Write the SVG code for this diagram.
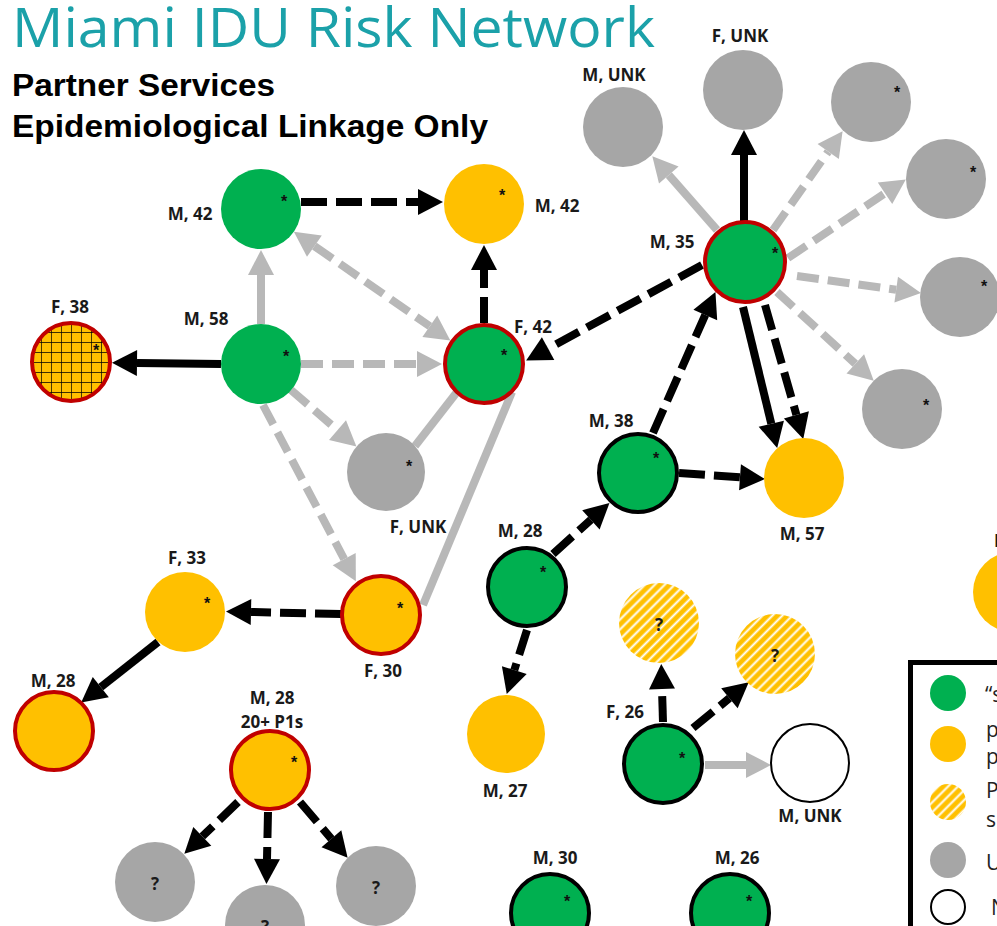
<svg xmlns="http://www.w3.org/2000/svg" width="997" height="926" viewBox="0 0 997 926">
<style>
.g{fill:#00B050}
.o{fill:#FFC000}
.gr{fill:#A6A6A6}
.rs{stroke:#C00000;stroke-width:4}
.bs{stroke:#000;stroke-width:4}
.lbl{font-family:"Open Sans","Liberation Sans",sans-serif;font-weight:700;font-size:17px;fill:#1a1a1a;text-anchor:middle}
.ast{font-family:"Liberation Sans",sans-serif;font-weight:700;font-size:16px;fill:#111;text-anchor:middle}
.q{font-family:"Open Sans","Liberation Sans",sans-serif;font-weight:700;font-size:17px;fill:#1a1a1a;text-anchor:middle}
.eb{stroke:#000;stroke-width:8;fill:none;marker-end:url(#ab)}
.eg{stroke:#B8B8B8;stroke-width:8;fill:none;marker-end:url(#ag)}
.ln{stroke:#B8B8B8;stroke-width:8;fill:none}
.db{stroke-dasharray:26 9}
.dg{stroke-dasharray:22 9}
.leg{font-family:"Open Sans","Liberation Sans",sans-serif;font-size:21px;fill:#222}
</style>
<defs>
<marker id="ab" markerUnits="userSpaceOnUse" markerWidth="30" markerHeight="30" refX="0" refY="13" orient="auto-start-reverse" overflow="visible"><path d="M0,0 L25,13 L0,26 Z" fill="#000"/></marker>
<marker id="ag" markerUnits="userSpaceOnUse" markerWidth="30" markerHeight="30" refX="0" refY="13" orient="auto-start-reverse" overflow="visible"><path d="M0,0 L25,13 L0,26 Z" fill="#B8B8B8"/></marker>
<pattern id="grid" patternUnits="userSpaceOnUse" width="10" height="10" x="31" y="322"><rect width="10" height="10" fill="#FFC000"/><path d="M0,0 V10 M0,0 H10" stroke="#000" stroke-width="1.4"/></pattern>
<pattern id="hatch" patternUnits="userSpaceOnUse" width="7" height="7" patternTransform="rotate(45)"><rect width="7" height="7" fill="#FFC000"/><line x1="1.5" y1="0" x2="1.5" y2="7" stroke="#fff" stroke-width="2"/></pattern>
</defs>
<rect width="997" height="926" fill="#fff"/>

<g id="title">
<text x="12" y="47" font-family="Open Sans, Liberation Sans, sans-serif" font-size="55" fill="#1BA1A9" textLength="643" lengthAdjust="spacingAndGlyphs">Miami IDU Risk Network</text>
<text x="12" y="96" font-family="Liberation Sans, Arial, sans-serif" font-weight="700" font-size="31" fill="#000" textLength="263" lengthAdjust="spacingAndGlyphs">Partner Services</text>
<text x="12" y="137" font-family="Liberation Sans, Arial, sans-serif" font-weight="700" font-size="31" fill="#000" textLength="476" lengthAdjust="spacingAndGlyphs">Epidemiological Linkage Only</text>
</g>

<g id="connectors">
<line class="eb db" x1="301" y1="202" x2="418" y2="202"/>
<line class="eb db" x1="484" y1="323" x2="484" y2="270"/>
<line class="eg" x1="261" y1="324" x2="261" y2="275"/>
<line class="eb" x1="221" y1="364" x2="137" y2="363"/>
<line class="eg dg" x1="301" y1="364" x2="417" y2="364"/>
<line class="eg dg" x1="314.4" y1="246.1" x2="429.8" y2="326.3" marker-start="url(#ag)"/>
<line class="eg dg" x1="291" y1="390" x2="337.5" y2="430.1"/>
<line class="eg dg" x1="263" y1="405" x2="344.2" y2="559.1"/>
<line class="ln" x1="415" y1="446" x2="457" y2="392"/>
<line class="ln" x1="512" y1="392" x2="423" y2="605"/>
<line class="eb db" x1="341" y1="614" x2="251" y2="612"/>
<line class="eb" x1="158" y1="642" x2="100.8" y2="687.1"/>
<line class="eb db" x1="702" y1="265" x2="548.1" y2="348.6"/>
<line class="eb db" x1="653" y1="433" x2="705.3" y2="314.9"/>
<line class="eg" x1="717" y1="230" x2="668.8" y2="175"/>
<line class="eb" x1="744" y1="221" x2="744" y2="155"/>
<line class="eg dg" x1="773" y1="230" x2="828.2" y2="151.6"/>
<line class="eg dg" x1="788" y1="258" x2="885" y2="193.3"/>
<line class="eg dg" x1="797" y1="276" x2="896.2" y2="289.7"/>
<line class="eg dg" x1="777" y1="292" x2="855.3" y2="363.8"/>
<line class="eb" x1="743" y1="307" x2="771.3" y2="423.7"/>
<line class="eb db" x1="765" y1="305" x2="796.4" y2="414.9"/>
<line class="eb db" x1="679" y1="473" x2="740" y2="477.3"/>
<line class="eb db" x1="553" y1="554" x2="590.9" y2="519.8"/>
<line class="eb db" x1="527" y1="630" x2="514.3" y2="670.1"/>
<line class="eb db" x1="238" y1="802" x2="202.3" y2="836.4"/>
<line class="eb db" x1="268" y1="812" x2="267" y2="859"/>
<line class="eb db" x1="300" y1="802" x2="331.4" y2="838.8"/>
<line class="eb db" x1="663" y1="722" x2="662" y2="689"/>
<line class="eb db" x1="693" y1="728" x2="729.4" y2="698.2"/>
<line class="eg" x1="705" y1="765" x2="746" y2="765"/>
</g>

<g id="n-m42g"><circle class="g" cx="261" cy="209" r="40"/><text class="ast" x="284" y="207">*</text><text class="lbl" x="190" y="220">M, 42</text></g>
<g id="n-m42y"><circle class="o" cx="484" cy="204" r="40"/><text class="ast" x="502" y="201">*</text><text class="lbl" x="557" y="212">M, 42</text></g>
<g id="n-m58"><circle class="g" cx="261" cy="364" r="40"/><text class="ast" x="286" y="362">*</text><text class="lbl" x="206" y="325">M, 58</text></g>
<g id="n-f38"><circle cx="71" cy="362" r="39" fill="url(#grid)" class="rs"/><text class="ast" x="96" y="356">*</text><text class="lbl" x="70" y="313">F, 38</text></g>
<g id="n-f42"><circle class="g rs" cx="484" cy="364" r="39"/><text class="ast" x="504" y="361">*</text><text class="lbl" x="533" y="333">F, 42</text></g>
<g id="n-funk-mid"><circle class="gr" cx="386" cy="472" r="39"/><text class="ast" x="409" y="472">*</text><text class="lbl" x="418" y="533">F, UNK</text></g>
<g id="n-f33"><circle class="o" cx="185" cy="612" r="40"/><text class="ast" x="207" y="609">*</text><text class="lbl" x="187" y="564">F, 33</text></g>
<g id="n-f30"><circle class="o rs" cx="381" cy="615" r="39"/><text class="ast" x="400" y="614">*</text><text class="lbl" x="383" y="677">F, 30</text></g>
<g id="n-m28o"><circle class="o rs" cx="54" cy="731" r="39"/><text class="lbl" x="53" y="687">M, 28</text></g>
<g id="n-m28p"><circle class="o rs" cx="270" cy="770" r="39"/><text class="ast" x="294" y="768">*</text><text class="lbl" x="272" y="704">M, 28</text><text class="lbl" x="272" y="728">20+ P1s</text></g>
<g id="n-gbl"><circle class="gr" cx="155" cy="882" r="40"/><text class="q" x="155" y="890">?</text></g>
<g id="n-gbm"><circle class="gr" cx="265" cy="925" r="40"/><text class="q" x="265" y="933">?</text></g>
<g id="n-gbr"><circle class="gr" cx="376" cy="886" r="40"/><text class="q" x="376" y="894">?</text></g>
<g id="n-m35"><circle class="g rs" cx="745" cy="262" r="40"/><text class="ast" x="775" y="259">*</text><text class="lbl" x="672" y="248">M, 35</text></g>
<g id="n-funk-top"><circle class="gr" cx="743" cy="90" r="40"/><text class="lbl" x="740" y="42">F, UNK</text></g>
<g id="n-munk-top"><circle class="gr" cx="623" cy="127" r="40"/><text class="lbl" x="614" y="81">M, UNK</text></g>
<g id="n-g1"><circle class="gr" cx="871" cy="102" r="40"/><text class="ast" x="897" y="98">*</text></g>
<g id="n-g2"><circle class="gr" cx="946" cy="179" r="40"/><text class="ast" x="973" y="178">*</text></g>
<g id="n-g3"><circle class="gr" cx="960" cy="297" r="40"/><text class="ast" x="984" y="292">*</text></g>
<g id="n-g4"><circle class="gr" cx="902" cy="409" r="40"/><text class="ast" x="926" y="411">*</text></g>
<g id="n-m57"><circle class="o" cx="804" cy="478" r="40"/><text class="lbl" x="802" y="540">M, 57</text></g>
<g id="n-m38"><circle class="g bs" cx="638" cy="473" r="39"/><text class="ast" x="656" y="464">*</text><text class="lbl" x="611" y="427">M, 38</text></g>
<g id="n-m28g"><circle class="g bs" cx="527" cy="587" r="39"/><text class="ast" x="543" y="578">*</text><text class="lbl" x="520" y="537">M, 28</text></g>
<g id="n-m27"><circle class="o" cx="506" cy="734" r="39"/><text class="lbl" x="505" y="797">M, 27</text></g>
<g id="n-h1"><circle cx="659" cy="623" r="40" fill="url(#hatch)"/><text class="q" x="659" y="631">?</text></g>
<g id="n-h2"><circle cx="775" cy="654" r="40" fill="url(#hatch)"/><text class="q" x="775" y="662">?</text></g>
<g id="n-f26"><circle class="g bs" cx="663" cy="764" r="39"/><text class="ast" x="682" y="764">*</text><text class="lbl" x="625" y="718">F, 26</text></g>
<g id="n-munk-w"><circle cx="810" cy="763" r="39" fill="#fff" stroke="#000" stroke-width="2"/><text class="lbl" x="810" y="822">M, UNK</text></g>
<g id="n-m30"><circle class="g bs" cx="550" cy="913" r="39"/><text class="ast" x="567" y="907">*</text><text class="lbl" x="555" y="864">M, 30</text></g>
<g id="n-m26"><circle class="g bs" cx="730" cy="913" r="39"/><text class="ast" x="749" y="907">*</text><text class="lbl" x="737" y="864">M, 26</text></g>
<g id="n-oright"><circle class="o" cx="1013" cy="592" r="40"/><text class="lbl" x="994" y="547" style="text-anchor:start">M</text></g>

<g id="legend">
<rect x="910.5" y="662.5" width="200" height="300" fill="#fff" stroke="#000" stroke-width="5"/>
<circle cx="948" cy="693" r="18" fill="#00B050"/>
<circle cx="948" cy="744" r="18" fill="#FFC000"/>
<circle cx="948" cy="802" r="18" fill="url(#hatch)"/>
<circle cx="948" cy="860" r="18" fill="#A6A6A6"/>
<circle cx="948" cy="907" r="17" fill="#fff" stroke="#000" stroke-width="2"/>
<text class="leg" x="985" y="702">“s</text>
<text class="leg" x="986" y="737">p</text>
<text class="leg" x="986" y="764">p</text>
<text class="leg" x="986" y="798">P</text>
<text class="leg" x="986" y="827">s</text>
<text class="leg" x="986" y="870">U</text>
<text class="leg" x="991" y="915">N</text>
</g>
</svg>
